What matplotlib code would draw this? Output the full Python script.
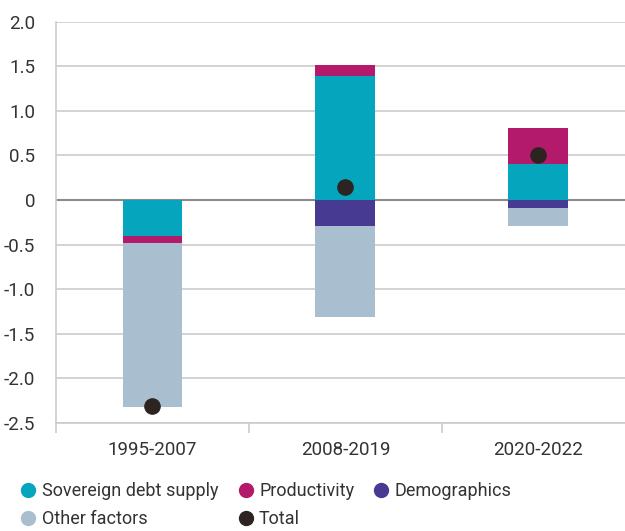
import numpy as np
import matplotlib.pyplot as plt
from matplotlib.lines import Line2D

plt.rcParams['font.family'] = ['Roboto', 'DejaVu Sans']

# Datos
periodos = ["1995-2007", "2008-2019", "2020-2022"]
soberana = [-0.41, 1.39, 0.41]
productividad = [-0.07, 0.13, 0.40]
demografia = [0.0, -0.29, -0.09]
otros = [-1.85, -1.02, -0.20]
total = [-2.31, 0.15, 0.51]

series = [
    ("Sovereign debt supply", soberana, "#05a6bd"),
    ("Productivity", productividad, "#b31a6b"),
    ("Demographics", demografia, "#463a93"),
    ("Other factors", otros, "#a9bfcf"),
]

fig = plt.figure(figsize=(6.25, 5.31), dpi=100)
ax = fig.add_axes([0.0896, 0.2043, 0.926, 0.7543])

x = np.arange(len(periodos))
pos_base = np.zeros(len(periodos))
neg_base = np.zeros(len(periodos))
for nombre, vals, color in series:
    v = np.array(vals)
    base = np.where(v >= 0, pos_base, neg_base)
    ax.bar(x, v, bottom=base, width=0.31, color=color, zorder=3)
    pos_base = pos_base + np.where(v > 0, v, 0)
    neg_base = neg_base + np.where(v < 0, v, 0)

ax.scatter(x, total, s=120, color="#2b2420", zorder=4)

# ejes y rejilla
ax.set_xlim(-0.5, 2.5)
ax.set_ylim(-2.5, 2.0)
ax.set_yticks(np.arange(-2.5, 2.01, 0.5))
ax.set_yticklabels(["-2.5", "-2.0", "-1.5", "-1.0", "-0.5", "0", "0.5", "1.0", "1.5", "2.0"])
ax.grid(axis="y", color="#cccccc", linewidth=1.2, zorder=0)
ax.axhline(0, color="#8a8a8a", linewidth=1.5, zorder=2)
ax.set_xticks(x)
ax.set_xticklabels(periodos)
ax.set_xticks([-0.5, 0.5, 1.5], minor=True)
ax.tick_params(axis="x", which="major", length=0, pad=13, labelsize=13.5, labelcolor="#333333")
ax.tick_params(axis="x", which="minor", length=7, width=1.2, color="#cccccc", direction="out")
ax.tick_params(axis="y", length=0, pad=15, labelsize=13.5, labelcolor="#333333")
for s in ["top", "right"]:
    ax.spines[s].set_visible(False)
for s in ["left", "bottom"]:
    ax.spines[s].set_color("#cccccc")
    ax.spines[s].set_linewidth(1.2)

# leyenda
def punto(color):
    return Line2D([], [], marker="o", linestyle="", markersize=10, color=color)

handles = [punto("#05a6bd"), punto("#a9bfcf"), punto("#b31a6b"), punto("#2b2420"), punto("#463a93")]
labels = ["Sovereign debt supply", "Other factors", "Productivity", "Total", "Demographics"]
fig.legend(handles, labels, ncol=3, loc="lower left", bbox_to_anchor=(0.005, -0.025),
           frameon=False, fontsize=13, handletextpad=0.25, columnspacing=1.0,
           labelspacing=0.55, labelcolor="#333333", handlelength=1.0)

fig.savefig("out.png", dpi=100)
